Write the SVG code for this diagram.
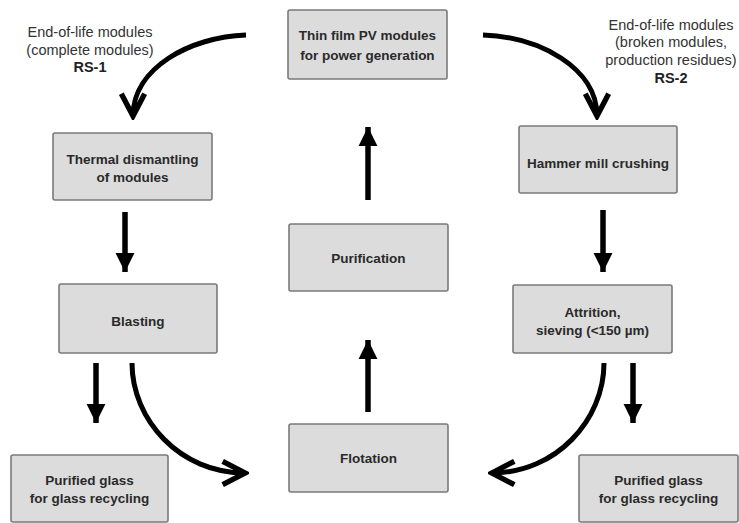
<svg xmlns="http://www.w3.org/2000/svg" width="739" height="523" viewBox="0 0 739 523">
<style>
.box{fill:#dcdcdc;stroke:#7a7a7a;stroke-width:1.6}
.t{font-family:"Liberation Sans",Arial,sans-serif;font-size:13.5px;font-weight:bold;fill:#2a2a2a;text-anchor:middle}
.a{font-family:"Liberation Sans",Arial,sans-serif;font-size:14.5px;fill:#333;text-anchor:middle}
.ab{font-weight:bold;fill:#222}
.s{stroke:#000;stroke-width:5.5;fill:none}
.c{stroke:#000;stroke-width:5;fill:none}
</style>
<defs>
<marker id="tri" markerUnits="userSpaceOnUse" markerWidth="20" markerHeight="20" viewBox="-17 -9 18 18" refX="0" refY="0" orient="auto">
<path d="M -17 -8.5 L 0 0 L -17 8.5 Z" fill="#000"/>
</marker>
<marker id="chev" markerUnits="userSpaceOnUse" markerWidth="34" markerHeight="34" viewBox="-28 -15 32 30" refX="0" refY="0" orient="auto">
<path d="M -21 -11 L 0 0 L -21 11" fill="none" stroke="#000" stroke-width="5" stroke-linejoin="miter"/>
</marker>
</defs>
<g id="annotation-rs1">
<text class="a" x="90" y="37">End-of-life modules</text>
<text class="a" x="90" y="55">(complete modules)</text>
<text class="a ab" x="90" y="72">RS-1</text>
</g>
<g id="annotation-rs2">
<text class="a" x="671" y="30">End-of-life modules</text>
<text class="a" x="671" y="47">(broken modules,</text>
<text class="a" x="671" y="65">production residues)</text>
<text class="a ab" x="671" y="83">RS-2</text>
</g>
<g id="thin-film">
<rect class="box" x="288" y="10" width="159" height="69" rx="2"/>
<text class="t" x="367.5" y="40">Thin film PV modules</text>
<text class="t" x="367.5" y="60">for power generation</text>
</g>
<g id="thermal">
<rect class="box" x="53" y="133" width="159" height="67" rx="2"/>
<text class="t" x="132.5" y="164">Thermal dismantling</text>
<text class="t" x="132.5" y="182">of modules</text>
</g>
<g id="hammer">
<rect class="box" x="519" y="126" width="158" height="67" rx="2"/>
<text class="t" x="598" y="168">Hammer mill crushing</text>
</g>
<g id="blasting">
<rect class="box" x="59" y="284" width="158" height="69" rx="2"/>
<text class="t" x="138" y="326">Blasting</text>
</g>
<g id="attrition">
<rect class="box" x="513" y="285" width="159" height="68" rx="2"/>
<text class="t" x="592.5" y="317">Attrition,</text>
<text class="t" x="592.5" y="335">sieving (&lt;150 µm)</text>
</g>
<g id="purification">
<rect class="box" x="289" y="224" width="159" height="67" rx="2"/>
<text class="t" x="368.5" y="263">Purification</text>
</g>
<g id="flotation">
<rect class="box" x="289" y="424" width="159" height="68" rx="2"/>
<text class="t" x="368.5" y="463">Flotation</text>
</g>
<g id="glass-left">
<rect class="box" x="11" y="455" width="157" height="67" rx="2"/>
<text class="t" x="89.5" y="485">Purified glass</text>
<text class="t" x="89.5" y="503">for glass recycling</text>
</g>
<g id="glass-right">
<rect class="box" x="579" y="455" width="159" height="67" rx="2"/>
<text class="t" x="658.5" y="485">Purified glass</text>
<text class="t" x="658.5" y="503">for glass recycling</text>
</g>
<g id="connectors">
<path class="c" d="M 246 35 C 190 37, 133 68, 133 116" marker-end="url(#chev)"/>
<path class="c" d="M 483 35 C 540 37, 597 68, 597 116" marker-end="url(#chev)"/>
<path class="s" d="M 125 212 L 125 272" marker-end="url(#tri)"/>
<path class="s" d="M 603 210 L 603 272" marker-end="url(#tri)"/>
<path class="s" d="M 96 363 L 96 423" marker-end="url(#tri)"/>
<path class="s" d="M 633 363 L 633 423" marker-end="url(#tri)"/>
<path class="s" d="M 368 412 L 368 340" marker-end="url(#tri)"/>
<path class="s" d="M 368 200 L 368 127" marker-end="url(#tri)"/>
<path class="c" d="M 132 363 C 132 420, 180 473, 245 473" marker-end="url(#chev)"/>
<path class="c" d="M 604 363 C 604 420, 556 473, 492 473" marker-end="url(#chev)"/>
</g>
</svg>
